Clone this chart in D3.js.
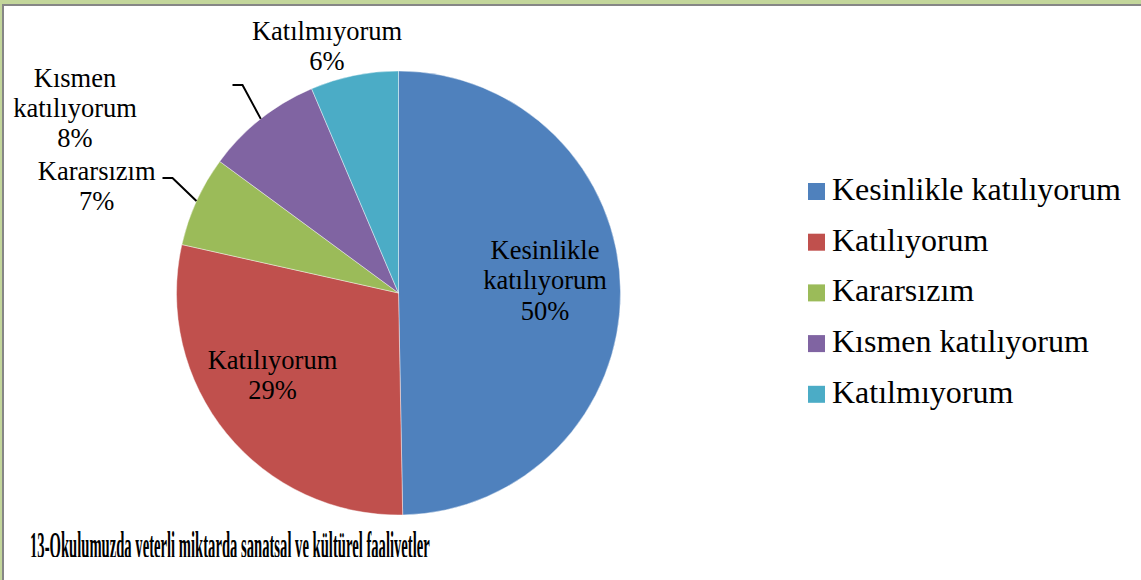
<!DOCTYPE html>
<html><head><meta charset="utf-8">
<script src="https://cdn.jsdelivr.net/npm/d3@7"></script>
<style>
html,body{margin:0;padding:0;background:#fff;overflow:hidden}
svg{display:block}
</style></head>
<body>
<svg id="c" width="1141" height="580"></svg>
<script>
const categories = ["Kesinlikle katılıyorum","Katılıyorum","Kararsızım","Kısmen katılıyorum","Katılmıyorum"];
const values = [49.7, 28.8, 6.6, 8.5, 6.4];
const percentLabels = ["50%","29%","7%","8%","6%"];
const labelLines = [["Kesinlikle","katılıyorum"],["Katılıyorum"],["Kararsızım"],["Kısmen","katılıyorum"],["Katılmıyorum"]];
const colors = ["#4F81BD","#C0504D","#9BBB59","#8064A2","#4BACC6"];
const title = "13-Okulumuzda yeterli miktarda sanatsal ve kültürel faaliyetler";

const FONT = "'Times New Roman', 'Liberation Serif', Tinos, 'DejaVu Serif', serif";
const W = 1141, H = 580;
const svg = d3.select("#c");

// frame
svg.append("rect").attr("x",0).attr("y",0).attr("width",W).attr("height",4).attr("fill","#C3D69B");
svg.append("rect").attr("x",0).attr("y",0).attr("width",2).attr("height",H).attr("fill","#C3D69B");
svg.append("rect").attr("x",2).attr("y",4).attr("width",W).attr("height",2).attr("fill","#868686");
svg.append("rect").attr("x",2).attr("y",4).attr("width",2).attr("height",H).attr("fill","#868686");

const cx = 398.5, cy = 293, R = 222;
const pie = d3.pie().sort(null).value(d => d)(values);
const arc = d3.arc().innerRadius(0).outerRadius(R);
const g = svg.append("g").attr("transform",`translate(${cx},${cy})`);
g.selectAll("path").data(pie).join("path")
  .attr("d",arc).attr("fill",(d,i)=>colors[i])
  .attr("stroke","#ffffff").attr("stroke-width",0.7).attr("stroke-opacity",0.6);

const FS = 26.5;
const layout = [
  {mode:"in", r:0.66, dx:0, dy:-11, lh:30.5},
  {mode:"in", r:0.733, dx:0, dy:-20.4, lh:30},
  {mode:"out", tx:-301.8, ty:-106.75, lh:30, elbow:[-226,-115], end:[-236,-115]},
  {mode:"out", tx:-323.5, ty:-184.75, lh:30, elbow:[-156,-208], end:[-166,-208]},
  {mode:"out", tx:-71.5, ty:-246.75, lh:30}
];
pie.forEach((d,i)=>{
  const L = layout[i];
  const lines = labelLines[i].concat([percentLabels[i]]);
  const a = (d.startAngle + d.endAngle)/2;
  let x, y;
  if (L.mode === "in") {
    x = Math.sin(a)*R*L.r + L.dx;
    y = -Math.cos(a)*R*L.r + L.dy;
  } else {
    x = L.tx; y = L.ty;
    if (L.elbow) {
      const px = Math.sin(a)*R, py = -Math.cos(a)*R;
      g.append("polyline")
        .attr("points",[[px,py],L.elbow,L.end].map(p=>p.join(",")).join(" "))
        .attr("fill","none").attr("stroke","#000").attr("stroke-width",2);
    }
  }
  const t = g.append("text").attr("text-anchor","middle").attr("font-size",FS)
    .attr("font-family",FONT).attr("fill","#000");
  const n = lines.length;
  lines.forEach((s,k)=>{
    t.append("tspan").attr("x",x).attr("y", y + (k-(n-1)/2)*L.lh + FS*0.33).text(s);
  });
});

// legend
const lg = svg.append("g").attr("transform","translate(808,200)");
const row = lg.selectAll("g").data(categories).join("g")
  .attr("transform",(d,i)=>`translate(0,${i*50.7})`);
row.append("rect").attr("x",0).attr("y",-17).attr("width",17).attr("height",17).attr("fill",(d,i)=>colors[i]);
row.append("text").attr("x",24).attr("y",0).attr("font-size",32).attr("font-family",FONT).attr("fill","#000").text(d=>d);

// title (horizontally condensed, clipped at bottom like the reference)
svg.append("clipPath").attr("id","tc").append("rect").attr("x",0).attr("y",500).attr("width",W).attr("height",57);
const tg = svg.append("g").attr("clip-path","url(#tc)");
const tt = tg.append("text").attr("x",0).attr("y",0).attr("font-size",38).attr("font-weight","bold")
  .attr("font-family",FONT).attr("fill","#000").text(title);
const tw = tt.node().getComputedTextLength();
tt.attr("transform",`translate(30,558) scale(${400/tw},1)`);
</script>
</body></html>
